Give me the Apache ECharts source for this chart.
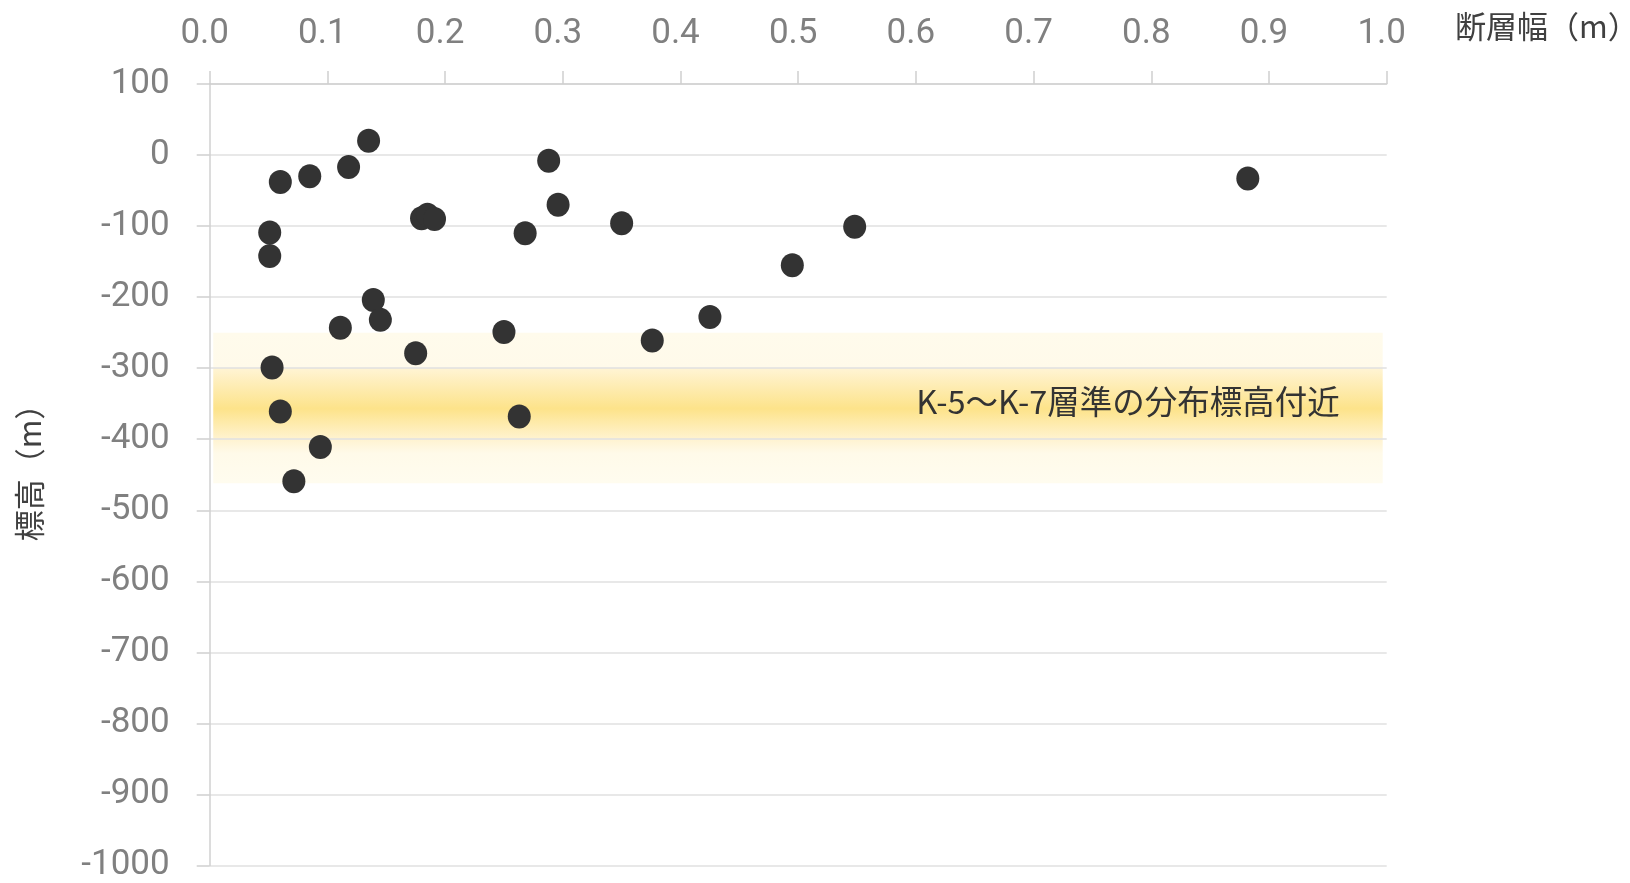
<!DOCTYPE html>
<html>
<head>
<meta charset="utf-8">
<script src="https://cdn.jsdelivr.net/npm/echarts@6/dist/echarts.min.js"></script>
<style>
  html, body { margin: 0; padding: 0; background: #ffffff; }
  #chart { width: 1630px; height: 883px; }
</style>
</head>
<body>
<div id="chart"></div>
<script>
// Fault width (m) and elevation (m) for each observed fault
const faultWidth = [
  0.135, 0.060, 0.085, 0.118, 0.288, 0.051, 0.051, 0.180, 0.185, 0.191,
  0.268, 0.296, 0.350, 0.139, 0.145, 0.111, 0.250, 0.376, 0.425, 0.175,
  0.053, 0.060, 0.263, 0.094, 0.0715, 0.495, 0.548, 0.882
];
const elevation = [
  20, -38, -30, -17, -8, -109, -142, -89, -84, -90,
  -110, -70, -96, -204, -232, -243, -249, -261, -228, -279,
  -299, -361, -368, -411, -459, -155, -101, -33
];

// Axis ranges
const widthRange = [0, 1.0, 0.1];        // min, max, interval
const elevationRange = [-1000, 100, 100]; // min, max, interval

// Elevation band of the K-5 to K-7 horizons
const bandWidthExtent = [0.003, 0.9966];
const bandElevation = [-250, -462];
const bandLabel = 'K-5～K-7層準の分布標高付近';

const xName = '断層幅（m）';
const yName = '標高（m）';

const points = faultWidth.map((w, i) => [w, elevation[i]]);

const chart = echarts.init(document.getElementById('chart'), null, { renderer: 'canvas' });

const labelFont = 'Roboto, "Noto Sans", sans-serif';
const cjkFont = '"Noto Sans CJK JP", "Noto Sans", sans-serif';

chart.setOption({
  animation: false,
  backgroundColor: '#ffffff',
  grid: { left: 209.7, right: 243.3, top: 84, bottom: 15, containLabel: false },
  // axis titles: width title level with the tick labels, elevation title rotated at the left
  graphic: [
    {
      type: 'text',
      left: 1455,
      top: 11,
      silent: true,
      style: { text: xName, fontFamily: cjkFont, fontSize: 31, fill: '#404040' }
    },
    {
      type: 'text',
      x: 29,
      y: 465,
      rotation: Math.PI / 2,
      silent: true,
      style: {
        text: yName, fontFamily: cjkFont, fontSize: 31, fill: '#404040',
        align: 'center', verticalAlign: 'middle'
      }
    }
  ],
  xAxis: {
    type: 'value',
    position: 'top',
    min: widthRange[0], max: widthRange[1], interval: widthRange[2],
    z: 1,
    axisLine: { show: true, onZero: false, lineStyle: { color: '#d0d0d0', width: 1.5 } },
    axisTick: { show: true, inside: false, length: 13, lineStyle: { color: '#d0d0d0', width: 1.5 } },
    axisLabel: {
      margin: 32, fontFamily: labelFont, fontSize: 35, color: '#808080',
      padding: [0, 10, 0, 0],
      formatter: v => v.toFixed(1)
    },
    splitLine: { show: false }
  },
  yAxis: {
    type: 'value',
    min: elevationRange[0], max: elevationRange[1], interval: elevationRange[2],
    z: 1,
    axisLine: { show: true, onZero: false, lineStyle: { color: '#d0d0d0', width: 1.5 } },
    axisTick: { show: true, inside: false, length: 13, lineStyle: { color: '#d0d0d0', width: 1.5 } },
    axisLabel: {
      margin: 40, fontFamily: labelFont, fontSize: 35, color: '#808080',
      padding: [6, 0, 0, 0],
      formatter: v => String(v)
    },
    splitLine: { show: true, lineStyle: { color: '#e0e0e0', width: 1.5 } }
  },
  series: [
    {
      // shaded elevation band, drawn beneath the grid lines
      type: 'line',
      z: 0,
      data: [],
      silent: true,
      markArea: {
        silent: true,
        z: 0,
        itemStyle: {
          color: new echarts.graphic.LinearGradient(0, 0, 0, 1, [
            { offset: 0.0, color: '#fffbec' },
            { offset: 0.235, color: '#fffaea' },
            { offset: 0.237, color: '#fff4d4' },
            { offset: 0.505, color: '#fde38a' },
            { offset: 0.706, color: '#fff3d0' },
            { offset: 0.80, color: '#fffae9' },
            { offset: 1.0, color: '#fffcef' }
          ])
        },
        label: {
          show: true,
          position: 'insideRight',
          distance: 43,
          offset: [0, -6],
          fontFamily: cjkFont,
          fontSize: 32.5,
          color: '#333333'
        },
        data: [[
          { name: bandLabel, xAxis: bandWidthExtent[0], yAxis: bandElevation[0] },
          { xAxis: bandWidthExtent[1], yAxis: bandElevation[1] }
        ]]
      }
    },
    {
      type: 'scatter',
      z: 3,
      data: points,
      symbol: 'circle',
      symbolSize: [23, 24],
      itemStyle: { color: '#333333', opacity: 1 }
    }
  ]
});
</script>
</body>
</html>
